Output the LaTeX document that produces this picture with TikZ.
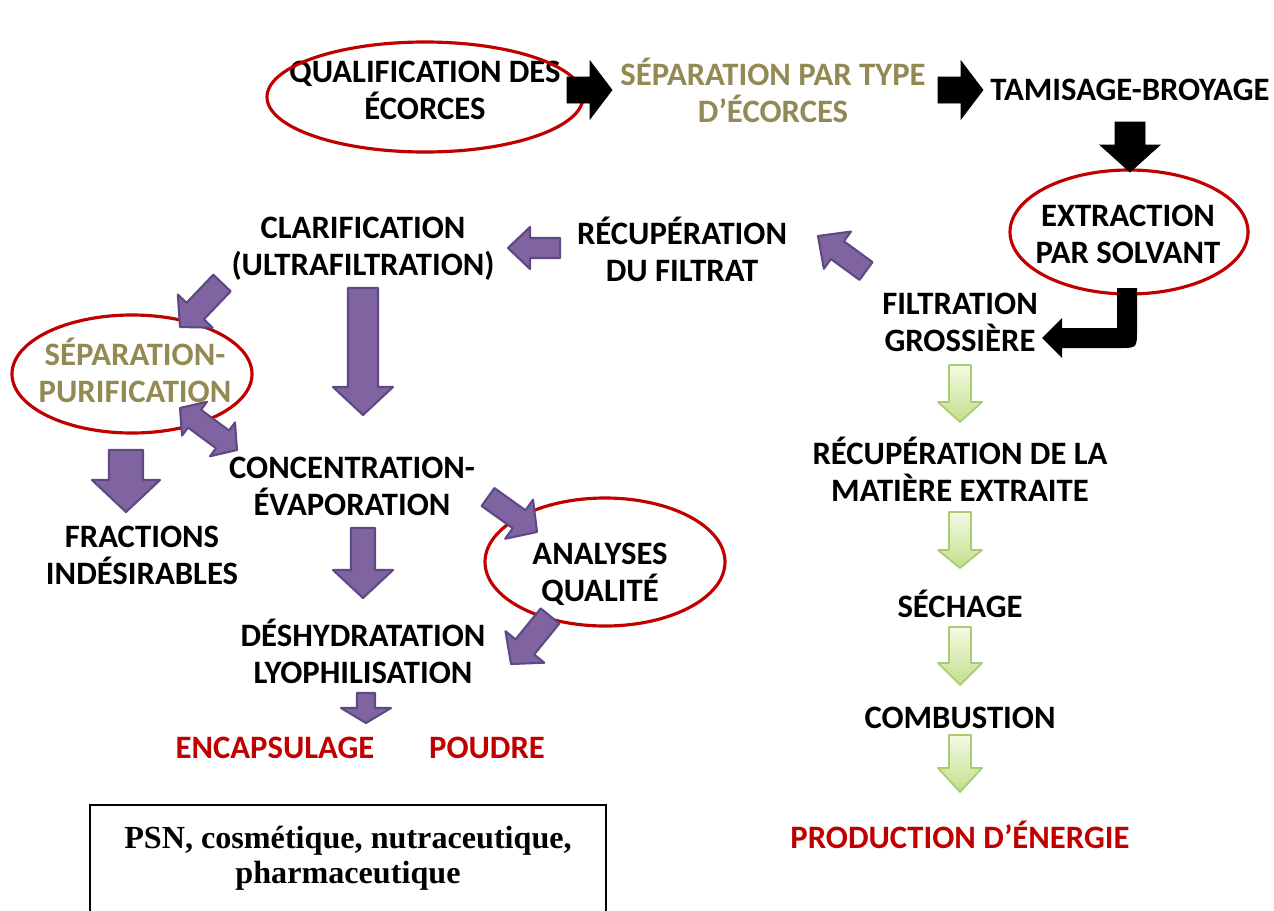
\documentclass[tikz,border=0pt]{standalone}
\usepackage{fontspec}
\setmainfont{Carlito}
\newfontfamily\boxfont{Liberation Serif}
\usetikzlibrary{calc}
\definecolor{ringred}{HTML}{C00000}
\definecolor{olivetxt}{HTML}{938953}
\definecolor{purp}{HTML}{8064A2}
\definecolor{purpedge}{HTML}{5E4A82}
\definecolor{lgtop}{HTML}{F4FAE4}
\definecolor{lgbot}{HTML}{C2DF8C}
\definecolor{lgedge}{HTML}{A8CC70}
\tikzset{
	lbl/.style={font=\bfseries\fontsize{18.6}{21}\selectfont, align=center, inner sep=0pt},
	boxtxt/.style={font=\boxfont\bfseries\fontsize{18.3}{20}\selectfont, align=center, inner sep=0pt},
	ring/.style={draw=ringred, line width=1.8pt},
	blkarr/.style={fill=black, draw=black, line width=0.4pt},
	purparr/.style={fill=purp, draw=purpedge, line width=1.2pt, line join=round},
	greenarr/.style={top color=lgtop, bottom color=lgbot, draw=lgedge, line width=1pt, line join=round}
}
\newcommand{\blockarrow}[6][]{%
	\pgfmathsetlengthmacro{\bsh}{#4*0.02cm}%
	\pgfmathsetlengthmacro{\bhh}{#5*0.02cm}%
	\pgfmathsetlengthmacro{\bhl}{#6*0.02cm}%
	\coordinate (bh) at ($(#3)!\bhl!(#2)$);%
	\path[#1] ($(#2)!\bsh!90:(#3)$) -- ($(bh)!\bsh!-90:(#2)$) -- ($(bh)!\bhh!-90:(#2)$) -- (#3) -- ($(bh)!\bhh!90:(#2)$) -- ($(bh)!\bsh!90:(#2)$) -- ($(#2)!\bsh!-90:(#3)$) -- cycle;%
}
\newcommand{\dblockarrow}[6][]{%
	\pgfmathsetlengthmacro{\bsh}{#4*0.02cm}%
	\pgfmathsetlengthmacro{\bhh}{#5*0.02cm}%
	\pgfmathsetlengthmacro{\bhl}{#6*0.02cm}%
	\coordinate (ha) at ($(#2)!\bhl!(#3)$);%
	\coordinate (hb) at ($(#3)!\bhl!(#2)$);%
	\path[#1] (#2) -- ($(ha)!\bhh!90:(#3)$) -- ($(ha)!\bsh!90:(#3)$) -- ($(hb)!\bsh!-90:(#2)$) -- ($(hb)!\bhh!-90:(#2)$) -- (#3) -- ($(hb)!\bhh!90:(#2)$) -- ($(hb)!\bsh!90:(#2)$) -- ($(ha)!\bsh!-90:(#3)$) -- ($(ha)!\bhh!-90:(#3)$) -- cycle;%
}

\begin{document}
\begin{tikzpicture}[x=0.02cm, y=-0.02cm]
	\useasboundingbox (0,0) rectangle (1274,910);
	\node[lbl] (qual) at (425,90) {QUALIFICATION DES\\ÉCORCES};
	\draw[ring] (425,97) ellipse (158 and 55);
	\node[lbl, olivetxt] (septype) at (773,90) {SÉPARATION PAR TYPE\\D’ÉCORCES};
	\node[lbl] (tamis) at (1130,90) {TAMISAGE-BROYAGE};
	\node[lbl] (extr) at (1128,234) {EXTRACTION\\PAR SOLVANT};
	\draw[ring] (1129,232) ellipse (119 and 62);
	\node[lbl] (filtr) at (960,322) {FILTRATION\\GROSSIÈRE};
	\node[lbl] (recfil) at (682,249) {RÉCUPÉRATION\\DU FILTRAT};
	\node[lbl] (clarif) at (363,249) {CLARIFICATION\\(ULTRAFILTRATION)};
	\node[lbl, olivetxt] (seppur) at (135,370) {SÉPARATION-\\PURIFICATION};
	\draw[ring] (132,374) ellipse (120 and 59);
	\node[lbl] (frac) at (142,555) {FRACTIONS\\INDÉSIRABLES};
	\node[lbl] (conc) at (352,486) {CONCENTRATION-\\ÉVAPORATION};
	\node[lbl] (anal) at (600,574) {ANALYSES\\QUALITÉ};
	\draw[ring] (605,562) ellipse (120 and 64);
	\node[lbl] (desh) at (363,651) {DÉSHYDRATATION\\LYOPHILISATION};
	\node[lbl, ringred] (encap) at (275,748) {ENCAPSULAGE};
	\node[lbl, ringred] (poudre) at (487,748) {POUDRE};
	\node[lbl] (recmat) at (960,469) {RÉCUPÉRATION DE LA\\MATIÈRE EXTRAITE};
	\node[lbl] (sech) at (960,604) {SÉCHAGE};
	\node[lbl] (comb) at (960,718) {COMBUSTION};
	\node[lbl, ringred] (prod) at (960,835) {PRODUCTION D’ÉNERGIE};
	\draw[line width=1.1pt] (90,915) -- (90,805) -- (606,805) -- (606,915);
	\node[boxtxt] (usage) at (348,858) {PSN, cosmétique, nutraceutique,\\pharmaceutique};
	\coordinate (q-out) at (567,90);
	\coordinate (s-in) at (612,90);
	\coordinate (s-out) at (938,90);
	\coordinate (t-in) at (983,90);
	\coordinate (t-out) at (1130,122);
	\coordinate (e-in) at (1130,172);
	\coordinate (bendtip) at (1042,338);
	\coordinate (f-out) at (866,271);
	\coordinate (r-in) at (818,236);
	\coordinate (r-out) at (560,248);
	\coordinate (c-in) at (508,248);
	\coordinate (c-down) at (363,288);
	\coordinate (k-in) at (363,415);
	\coordinate (c-left) at (222,283);
	\coordinate (p-in) at (180,327);
	\coordinate (p-end) at (180,408);
	\coordinate (k-end) at (237,450);
	\coordinate (p-out) at (126,450);
	\coordinate (fr-in) at (126,512);
	\coordinate (k-right) at (488,497);
	\coordinate (a-in) at (537,532);
	\coordinate (a-out) at (550,616);
	\coordinate (d-in) at (511,664);
	\coordinate (k-down) at (363,528);
	\coordinate (d-top) at (363,598);
	\coordinate (d-out) at (366,693);
	\coordinate (en-in) at (366,723);
	\blockarrow[blkarr]{q-out}{s-in}{13}{29}{22}
	\blockarrow[blkarr]{s-out}{t-in}{13}{29}{22}
	\blockarrow[blkarr]{t-out}{e-in}{15}{30}{27}
	\fill[black] (1117,288) -- (1137,288) -- (1137,330) .. controls (1137,348) .. (1119,348) -- (1062,348) -- (1062,358) -- (bendtip) -- (1062,318) -- (1062,328) -- (1117,328) -- cycle;
	\blockarrow[purparr]{f-out}{r-in}{11}{23}{24}
	\blockarrow[purparr]{r-out}{c-in}{10}{21}{22}
	\blockarrow[purparr]{c-down}{k-in}{15}{30}{28}
	\blockarrow[purparr]{c-left}{p-in}{12}{24}{22}
	\dblockarrow[purparr]{p-end}{k-end}{11}{21}{18}
	\blockarrow[purparr]{p-out}{fr-in}{17}{34}{32}
	\blockarrow[purparr]{k-right}{a-in}{11}{24}{22}
	\blockarrow[purparr]{a-out}{d-in}{12}{25}{22}
	\blockarrow[purparr]{k-down}{d-top}{12}{30}{28}
	\blockarrow[purparr]{d-out}{en-in}{9}{25}{15}
	\coordinate (fg-out) at (960,365);
	\coordinate (rm-in) at (960,422);
	\coordinate (rm-out) at (960,512);
	\coordinate (se-in) at (960,568);
	\coordinate (se-out) at (960,627);
	\coordinate (co-in) at (960,685);
	\coordinate (co-out) at (960,735);
	\coordinate (pr-in) at (960,792);
	\blockarrow[greenarr]{fg-out}{rm-in}{11}{22}{20}
	\blockarrow[greenarr]{rm-out}{se-in}{11}{22}{18}
	\blockarrow[greenarr]{se-out}{co-in}{11}{22}{22}
	\blockarrow[greenarr]{co-out}{pr-in}{11}{22}{24}
\end{tikzpicture}
\end{document}
